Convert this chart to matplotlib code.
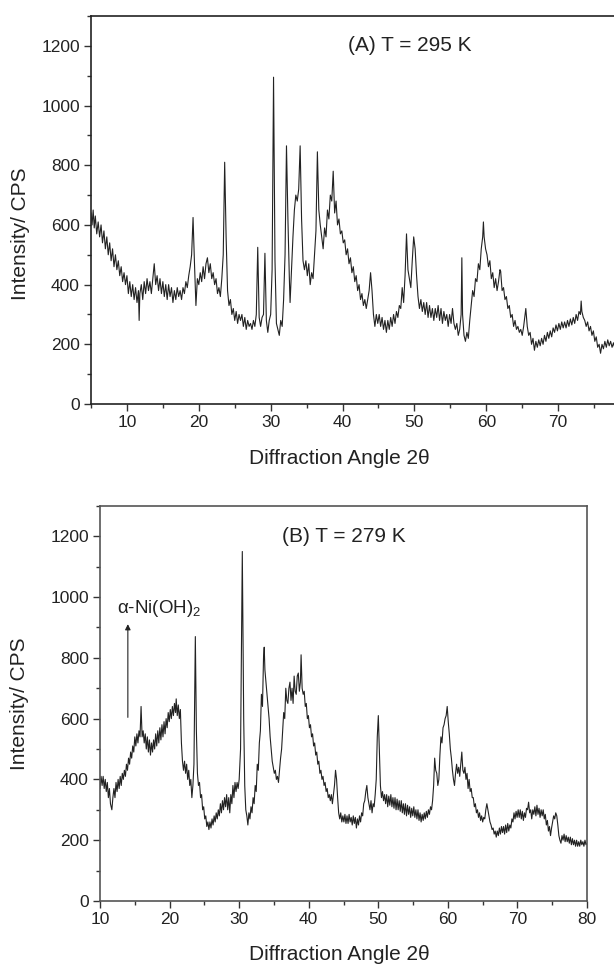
import matplotlib
matplotlib.use("Agg")
import matplotlib.pyplot as plt
from matplotlib.ticker import MultipleLocator, FixedLocator

plt.rcParams['font.family'] = ['Liberation Sans', 'DejaVu Sans']
plt.rcParams['mathtext.default'] = 'regular'

# (A) T = 295 K pattern (rows of 10)
ang_a = [5.0, 5.15, 5.3, 5.45, 5.6, 5.8, 6.0, 6.2, 6.4, 6.6,
         6.8, 7.0, 7.2, 7.4, 7.6, 7.8, 8.0, 8.2, 8.4, 8.6,
         8.8, 9.0, 9.2, 9.4, 9.6, 9.8, 10.0, 10.2, 10.4, 10.6,
         10.8, 11.0, 11.2, 11.4, 11.6, 11.7, 11.8, 12.0, 12.2, 12.4,
         12.6, 12.8, 13.0, 13.2, 13.4, 13.6, 13.8, 14.0, 14.2, 14.4,
         14.6, 14.8, 15.0, 15.2, 15.4, 15.6, 15.8, 16.0, 16.2, 16.4,
         16.6, 16.8, 17.0, 17.2, 17.4, 17.6, 17.8, 18.0, 18.2, 18.4,
         18.6, 18.8, 19.0, 19.2, 19.4, 19.6, 19.8, 20.0, 20.2, 20.4,
         20.6, 20.8, 21.0, 21.2, 21.4, 21.6, 21.8, 22.0, 22.2, 22.4,
         22.6, 22.8, 23.0, 23.2, 23.4, 23.6, 23.8, 24.0, 24.2, 24.4,
         24.6, 24.8, 25.0, 25.2, 25.4, 25.6, 25.8, 26.0, 26.2, 26.4,
         26.6, 26.8, 27.0, 27.2, 27.4, 27.6, 27.8, 28.0, 28.2, 28.4,
         28.6, 28.8, 29.0, 29.2, 29.4, 29.6, 29.8, 30.0, 30.2, 30.4,
         30.6, 30.8, 31.0, 31.2, 31.4, 31.6, 31.8, 32.0, 32.2, 32.4,
         32.6, 32.7, 32.9, 33.1, 33.3, 33.5, 33.7, 33.9, 34.1, 34.3,
         34.5, 34.7, 34.9, 35.1, 35.3, 35.5, 35.7, 35.9, 36.1, 36.3,
         36.5, 36.7, 36.9, 37.1, 37.3, 37.5, 37.7, 37.9, 38.1, 38.3,
         38.5, 38.7, 38.9, 39.1, 39.3, 39.5, 39.7, 39.9, 40.1, 40.3,
         40.5, 40.7, 40.9, 41.1, 41.3, 41.5, 41.7, 41.9, 42.1, 42.3,
         42.5, 42.7, 42.9, 43.1, 43.3, 43.5, 43.7, 43.9, 44.1, 44.3,
         44.5, 44.7, 44.9, 45.1, 45.3, 45.5, 45.7, 45.9, 46.1, 46.3,
         46.5, 46.7, 46.9, 47.1, 47.3, 47.5, 47.7, 47.9, 48.1, 48.3,
         48.5, 48.7, 48.9, 49.1, 49.3, 49.5, 49.7, 49.9, 50.1, 50.3,
         50.5, 50.7, 50.9, 51.1, 51.3, 51.5, 51.7, 51.9, 52.1, 52.3,
         52.5, 52.7, 52.9, 53.1, 53.3, 53.5, 53.7, 53.9, 54.1, 54.3,
         54.5, 54.7, 54.9, 55.1, 55.3, 55.5, 55.7, 55.9, 56.1, 56.3,
         56.5, 56.6, 56.7, 56.9, 57.1, 57.3, 57.5, 57.7, 57.9, 58.1,
         58.3, 58.5, 58.7, 58.9, 59.1, 59.3, 59.5, 59.6, 59.7, 59.9,
         60.1, 60.3, 60.5, 60.7, 60.9, 61.1, 61.3, 61.5, 61.7, 61.9,
         62.0, 62.2, 62.4, 62.6, 62.8, 63.0, 63.2, 63.4, 63.6, 63.8,
         64.0, 64.2, 64.4, 64.6, 64.8, 65.0, 65.2, 65.4, 65.5, 65.7,
         65.9, 66.1, 66.3, 66.5, 66.7, 66.9, 67.1, 67.3, 67.5, 67.7,
         67.9, 68.1, 68.3, 68.5, 68.7, 68.9, 69.1, 69.3, 69.5, 69.7,
         69.9, 70.1, 70.3, 70.5, 70.7, 70.9, 71.1, 71.3, 71.5, 71.7,
         71.9, 72.1, 72.3, 72.5, 72.7, 72.9, 73.1, 73.2, 73.3, 73.5,
         73.7, 73.9, 74.1, 74.3, 74.5, 74.7, 74.9, 75.1, 75.3, 75.5,
         75.7, 75.9, 76.1, 76.3, 76.5, 76.7, 76.9, 77.1, 77.3, 77.5,
         77.7, 77.9, 78.2, 78.6, 79.0, 79.5, 80.0]
cps_a = [640, 600, 650, 590, 630, 570, 610, 560, 600, 540,
         580, 520, 560, 500, 540, 480, 520, 460, 500, 450,
         480, 430, 460, 410, 440, 400, 430, 370, 410, 360,
         400, 350, 390, 340, 380, 280, 370, 400, 350, 410,
         370, 420, 380, 410, 370, 420, 470, 400, 430, 380,
         420, 370, 410, 360, 400, 350, 400, 360, 390, 340,
         380, 350, 390, 360, 380, 350, 390, 370, 410, 390,
         430, 460, 500, 625, 470, 330, 420, 400, 440, 410,
         460, 420, 470, 490, 440, 470, 420, 440, 400, 420,
         370, 390, 360, 420, 500, 810, 560, 380, 330, 350,
         300, 320, 280, 310, 270, 300, 280, 300, 260, 290,
         250, 280, 260, 270, 250, 280, 260, 300, 525, 290,
         260, 290, 300, 505, 280, 240, 280, 300, 450, 1095,
         480, 270, 250, 230, 280, 260, 350, 500, 865, 620,
         420, 340, 450, 560, 650, 700, 680, 720, 865, 620,
         480, 450, 480, 430, 470, 400, 440, 420, 500, 580,
         845, 650, 600, 560, 520, 590, 560, 650, 620, 700,
         680, 780, 640, 680, 600, 620, 570, 580, 540, 550,
         500, 520, 470, 490, 440, 460, 410, 430, 380, 400,
         350, 370, 330, 350, 320, 350, 380, 440, 380, 300,
         260, 300, 270, 300, 260, 290, 250, 280, 240, 280,
         250, 290, 260, 300, 270, 310, 290, 330, 320, 390,
         340, 430, 570, 450, 420, 390, 480, 560, 520, 430,
         360, 320, 350, 310, 340, 300, 340, 290, 330, 290,
         320, 280, 320, 290, 330, 280, 320, 270, 310, 280,
         300, 260, 300, 270, 320, 270, 250, 270, 230, 250,
         300, 490, 300, 230, 210, 240, 220, 280, 330, 380,
         360, 420, 410, 470, 450, 520, 560, 610, 560, 520,
         500, 460, 480, 420, 440, 390, 420, 380, 410, 450,
         445, 380, 390, 350, 360, 320, 330, 290, 300, 260,
         280, 250, 260, 240, 250, 230, 260, 300, 320, 260,
         230, 240, 200, 220, 180, 210, 190, 215, 195, 220,
         200, 230, 210, 240, 220, 245, 225, 255, 240, 265,
         245, 270, 250, 275, 255, 275, 255, 280, 260, 285,
         265, 290, 270, 300, 280, 310, 300, 345, 310, 290,
         280, 260, 275, 245, 260, 230, 245, 210, 225, 190,
         200, 170, 200, 185, 210, 190, 215, 195, 210, 190,
         205, 185, 205, 190, 200, 190, 195]

# (B) T = 279 K pattern (rows of 10)
ang_b = [10.0, 10.15, 10.3, 10.45, 10.6, 10.75, 10.9, 11.05, 11.2, 11.35,
         11.5, 11.7, 11.85, 12.0, 12.15, 12.3, 12.45, 12.6, 12.75, 12.9,
         13.05, 13.2, 13.35, 13.5, 13.65, 13.8, 13.95, 14.1, 14.25, 14.4,
         14.55, 14.7, 14.85, 15.0, 15.15, 15.3, 15.45, 15.6, 15.75, 15.9,
         16.05, 16.2, 16.35, 16.5, 16.65, 16.8, 16.95, 17.1, 17.25, 17.4,
         17.55, 17.7, 17.85, 18.0, 18.15, 18.3, 18.45, 18.6, 18.75, 18.9,
         19.05, 19.2, 19.35, 19.5, 19.65, 19.8, 19.95, 20.1, 20.25, 20.4,
         20.55, 20.7, 20.85, 20.95, 21.1, 21.25, 21.4, 21.55, 21.7, 21.85,
         22.0, 22.15, 22.3, 22.45, 22.6, 22.75, 22.9, 23.05, 23.2, 23.35,
         23.5, 23.7, 23.85, 24.0, 24.15, 24.3, 24.45, 24.6, 24.75, 24.9,
         25.05, 25.2, 25.35, 25.5, 25.65, 25.8, 25.95, 26.1, 26.25, 26.4,
         26.55, 26.7, 26.85, 27.0, 27.15, 27.3, 27.45, 27.6, 27.75, 27.9,
         28.05, 28.2, 28.35, 28.5, 28.65, 28.8, 28.95, 29.1, 29.25, 29.4,
         29.55, 29.7, 29.85, 30.0, 30.2, 30.45, 30.65, 30.8, 30.95, 31.1,
         31.25, 31.4, 31.55, 31.7, 31.85, 32.0, 32.15, 32.3, 32.45, 32.6,
         32.75, 32.9, 33.05, 33.2, 33.35, 33.5, 33.6, 33.7, 33.85, 34.0,
         34.15, 34.3, 34.45, 34.6, 34.75, 34.9, 35.05, 35.2, 35.35, 35.5,
         35.65, 35.8, 35.95, 36.1, 36.25, 36.4, 36.55, 36.7, 36.85, 37.0,
         37.15, 37.3, 37.45, 37.6, 37.75, 37.9, 38.05, 38.2, 38.35, 38.5,
         38.65, 38.8, 38.9, 39.05, 39.2, 39.35, 39.5, 39.65, 39.8, 39.95,
         40.1, 40.25, 40.4, 40.55, 40.7, 40.85, 41.0, 41.15, 41.3, 41.45,
         41.6, 41.75, 41.9, 42.05, 42.2, 42.35, 42.5, 42.65, 42.8, 42.95,
         43.1, 43.25, 43.4, 43.55, 43.7, 43.85, 44.0, 44.15, 44.3, 44.45,
         44.6, 44.75, 44.9, 45.05, 45.2, 45.35, 45.5, 45.65, 45.8, 45.95,
         46.1, 46.25, 46.4, 46.55, 46.7, 46.85, 47.0, 47.15, 47.3, 47.45,
         47.6, 47.75, 47.9, 48.05, 48.2, 48.35, 48.5, 48.65, 48.8, 48.95,
         49.1, 49.25, 49.4, 49.55, 49.7, 49.85, 50.0, 50.15, 50.3, 50.45,
         50.6, 50.75, 50.9, 51.05, 51.2, 51.35, 51.5, 51.65, 51.8, 51.95,
         52.1, 52.25, 52.4, 52.55, 52.7, 52.85, 53.0, 53.15, 53.3, 53.45,
         53.6, 53.75, 53.9, 54.05, 54.2, 54.35, 54.5, 54.65, 54.8, 54.95,
         55.1, 55.25, 55.4, 55.55, 55.7, 55.85, 56.0, 56.15, 56.3, 56.45,
         56.6, 56.75, 56.9, 57.05, 57.2, 57.35, 57.5, 57.65, 57.8, 57.95,
         58.1, 58.25, 58.4, 58.55, 58.7, 58.85, 59.0, 59.15, 59.3, 59.45,
         59.6, 59.75, 59.9, 60.05, 60.2, 60.35, 60.5, 60.65, 60.8, 60.95,
         61.1, 61.25, 61.4, 61.55, 61.7, 61.85, 62.0, 62.15, 62.3, 62.45,
         62.6, 62.75, 62.9, 63.05, 63.2, 63.35, 63.5, 63.65, 63.8, 63.95,
         64.1, 64.25, 64.4, 64.55, 64.7, 64.85, 65.0, 65.15, 65.3, 65.45,
         65.6, 65.75, 65.9, 66.05, 66.2, 66.35, 66.5, 66.65, 66.8, 66.95,
         67.1, 67.25, 67.4, 67.55, 67.7, 67.85, 68.0, 68.15, 68.3, 68.45,
         68.6, 68.75, 68.9, 69.05, 69.2, 69.35, 69.5, 69.65, 69.8, 69.95,
         70.1, 70.25, 70.4, 70.55, 70.7, 70.85, 71.0, 71.15, 71.3, 71.45,
         71.6, 71.75, 71.9, 72.05, 72.2, 72.35, 72.5, 72.65, 72.8, 72.95,
         73.1, 73.25, 73.4, 73.55, 73.7, 73.85, 74.0, 74.15, 74.3, 74.45,
         74.6, 74.75, 74.9, 75.05, 75.2, 75.35, 75.5, 75.65, 75.8, 75.95,
         76.1, 76.25, 76.4, 76.55, 76.7, 76.85, 77.0, 77.15, 77.3, 77.45,
         77.6, 77.75, 77.9, 78.05, 78.2, 78.35, 78.5, 78.65, 78.8, 78.95,
         79.1, 79.25, 79.4, 79.55, 79.7, 79.85, 80.0]
cps_b = [370, 410, 380, 410, 370, 400, 360, 390, 340, 370,
         320, 300, 340, 370, 340, 390, 360, 400, 370, 410,
         380, 420, 400, 430, 410, 450, 430, 470, 450, 490,
         470, 510, 490, 540, 510, 550, 520, 560, 540, 640,
         540, 560, 520, 550, 500, 540, 490, 530, 480, 520,
         490, 530, 500, 550, 510, 560, 520, 570, 530, 580,
         540, 590, 550, 600, 570, 620, 590, 630, 600, 640,
         610, 650, 620, 665, 610, 645, 600, 630, 520, 460,
         430, 460, 420, 450, 400, 430, 380, 400, 340, 380,
         450, 870, 560, 420, 380, 390, 340, 350, 300, 310,
         270, 280, 245, 260, 235, 260, 240, 270, 250, 280,
         260, 290, 270, 300, 280, 320, 290, 330, 300, 340,
         310, 350, 300, 340, 290, 350, 320, 380, 340, 390,
         360, 390, 370, 400, 500, 1150, 600, 380, 300, 280,
         250, 290, 270, 310, 290, 340, 320, 380, 360, 450,
         430, 520, 560, 680, 640, 800, 835, 760, 720, 680,
         640, 600, 540, 500, 460, 440, 420, 430, 400, 410,
         390, 430, 470, 500, 560, 620, 600, 700, 660, 650,
         700, 720, 660, 700, 650, 740, 690, 680, 740, 750,
         690, 720, 810, 700, 680, 690, 640, 650, 600, 610,
         570, 580, 540, 550, 510, 520, 480, 490, 450, 460,
         420, 430, 400, 410, 380, 390, 360, 370, 340, 350,
         330, 350, 320, 350, 380, 430, 400, 340, 290, 270,
         290, 260, 280, 260, 285, 255, 280, 255, 285, 260,
         275, 250, 280, 255, 275, 240, 270, 250, 280, 260,
         290, 280, 320, 330, 360, 380, 340, 320, 300, 330,
         290, 320, 310, 350, 400, 540, 610, 500, 380, 340,
         360, 330, 350, 320, 350, 310, 345, 315, 350, 310,
         340, 305, 340, 300, 335, 300, 330, 295, 330, 290,
         320, 285, 320, 280, 315, 285, 310, 275, 305, 280,
         310, 275, 300, 270, 300, 265, 290, 260, 285, 265,
         290, 270, 295, 275, 300, 285, 310, 300, 330, 380,
         470, 430, 420, 380, 400, 480, 540, 520, 570, 580,
         600, 610, 640, 590, 550, 500, 470, 430, 400, 380,
         420, 450, 420, 440, 410, 450, 490, 430, 420, 440,
         400, 420, 370, 400, 360, 370, 340, 340, 310, 320,
         290, 300, 275, 290, 265, 280, 260, 275, 270, 300,
         320, 300, 280, 260, 250, 235, 240, 220, 230, 210,
         230, 215, 240, 220, 245, 225, 245, 220, 250, 225,
         255, 230, 250, 240, 270, 260, 290, 270, 295, 275,
         300, 275, 300, 270, 295, 265, 290, 275, 305, 300,
         325, 290, 300, 270, 300, 285, 310, 280, 315, 285,
         305, 275, 300, 280, 300, 270, 285, 250, 265, 230,
         245, 215, 240, 260, 280, 270, 290, 280, 250, 215,
         200, 190, 215, 200, 220, 195, 215, 195, 210, 190,
         210, 185, 205, 185, 200, 180, 200, 180, 195, 180,
         200, 185, 195, 180, 200, 185, 190]

fig = plt.figure(figsize=(6.14, 9.64), dpi=100)
# top panel runs past the right edge of the page, as in the scan
ax1 = fig.add_axes([0.1482, 0.5809, 0.8779, 0.4025])
ax2 = fig.add_axes([0.1629, 0.0654, 0.7932, 0.4098])

for ax, sc in ((ax1, '#222222'), (ax2, '#555555')):
    ax.set_ylim(0, 1300)
    ax.yaxis.set_major_locator(MultipleLocator(200))
    ax.yaxis.set_minor_locator(MultipleLocator(100))
    ax.tick_params(which='major', direction='out', length=5, width=1, labelsize=12.5, pad=3,
                   color='#333', labelcolor='#222')
    ax.tick_params(which='minor', direction='out', length=3, width=1, color='#333')
    for s in ax.spines.values():
        s.set_color(sc)
        s.set_linewidth(1.2)
    ax.set_xlabel('Diffraction Angle 2θ', fontsize=15, color='#222')
    ax.set_ylabel('Intensity/ CPS', fontsize=15, color='#222')

ax1.plot(ang_a, cps_a, color='#222', lw=0.8)
ax1.set_xlim(5, 80)
ax1.xaxis.set_major_locator(FixedLocator([10, 20, 30, 40, 50, 60, 70]))
ax1.xaxis.set_minor_locator(FixedLocator([5, 15, 25, 35, 45, 55, 65, 75]))
ax1.text(40.8, 1200, '(A) T = 295 K', fontsize=15, va='center', ha='left', color='#222')
ax1.xaxis.set_label_coords(0.46, -0.116)
ax1.yaxis.set_label_coords(-0.114, 0.438)

ax2.plot(ang_b, cps_b, color='#222', lw=0.8)
ax2.set_xlim(10, 80)
ax2.xaxis.set_major_locator(MultipleLocator(10))
ax2.xaxis.set_minor_locator(MultipleLocator(5))
ax2.text(36.1, 1200, '(B) T = 279 K', fontsize=15, va='center', ha='left', color='#222')
ax2.text(12.4, 963, 'α-Ni(OH)$_2$', fontsize=13.5, va='center', ha='left', color='#222')
ax2.annotate('', xy=(14.0, 920), xytext=(14.0, 595),
             arrowprops=dict(arrowstyle='-|>', lw=0.8, color='#222', mutation_scale=8))
ax2.xaxis.set_label_coords(0.491, -0.111)
ax2.yaxis.set_label_coords(-0.145, 0.5)

fig.savefig('out.png', dpi=100)
